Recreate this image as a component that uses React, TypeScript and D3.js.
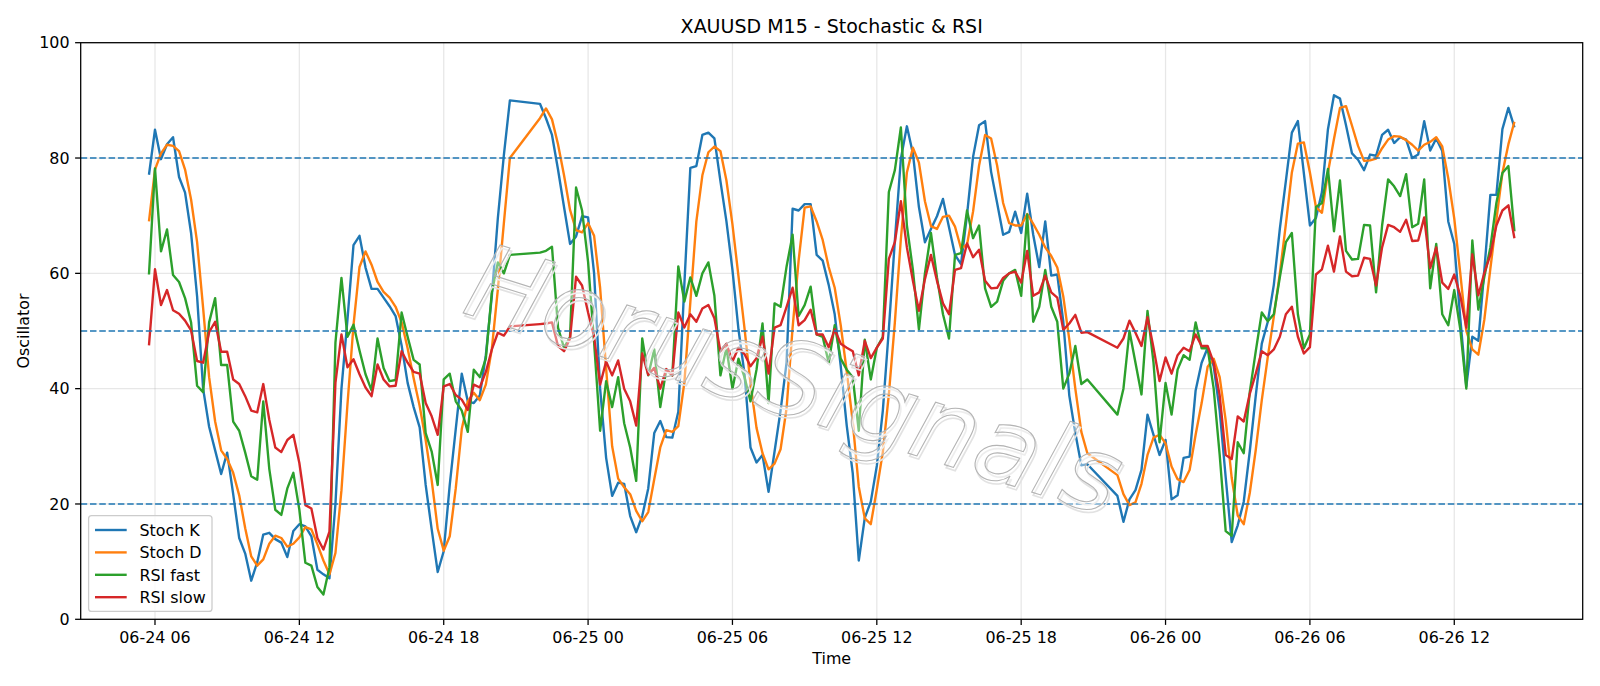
import { useRef, useEffect } from "react";
import * as d3 from "d3";

const W = 1600;
const H = 686;

// M15 bars from the first one on, no bars during the 21:00 (UTC) daily break
const startTime = "2025-06-24T05:45:00Z";
const barCount = 228;
const breakHour = 21;

// values, one per bar
const stochK = [
  77.1, 84.9, 79.8, 82.4, 83.6, 76.7, 74.0, 67.0, 56.0, 40.0,
  33.4, 29.3, 25.2, 28.9, 21.7, 14.1, 11.4, 6.7, 9.9, 14.7,
  15.0, 13.9, 13.3, 10.8, 15.3, 16.5, 16.1, 14.4, 8.6, 7.8,
  7.1, 20.0, 40.0, 52.0, 64.9, 66.5, 61.0, 57.3, 57.3, 55.8,
  54.3, 52.6, 47.5, 41.0, 36.8, 33.3, 23.3, 15.6, 8.2, 11.8,
  23.3, 33.0, 42.6, 37.8, 37.5, 38.8, 45.8, 56.1, 69.6, 80.5,
  90.0,
  // 06-24 22:00
  89.4, 86.9, 84.0, 78.0, 71.5,
  65.1, 66.4, 69.9, 69.7, 60.0, 40.0, 28.0, 21.4, 23.7, 23.5,
  17.9, 15.1, 17.9, 22.7, 32.3, 34.4, 31.6, 31.5, 36.0, 58.0,
  78.3, 78.6, 84.0, 84.4, 83.4, 76.0, 69.0, 60.6, 50.3, 42.6,
  29.8, 27.2, 28.5, 22.1, 29.1, 36.2, 44.5, 71.2, 70.9, 72.0,
  72.0, 63.2, 62.2, 58.0, 52.9, 43.9, 33.6, 25.3, 10.2, 17.6,
  20.4, 26.6, 36.2, 50.3, 65.7, 79.9, 85.5, 80.8, 71.5, 65.4,
  67.7, 69.9, 72.9, 68.0, 63.2, 61.6, 70.2, 80.2, 85.7, 86.4,
  77.6, 72.2, 66.7, 67.2, 70.7, 67.0, 73.8, 66.7, 61.1, 69.0,
  59.6, 59.8, 51.6, 38.8, 32.3, 26.7, 26.9,
  // 06-25 22:00
  21.4, 16.9, 20.8, 22.4, 25.9, 35.5, 32.0, 28.5, 31.1,
  20.8, 21.5, 28.0, 28.2, 39.7, 44.5, 47.1, 43.9, 36.2, 24.6,
  13.4, 16.3, 20.4, 29.1, 38.8, 47.8, 51.6, 58.0, 67.7, 76.0,
  84.4, 86.4, 77.3, 68.3, 69.6, 74.1, 85.0, 90.9, 90.3, 85.7,
  80.8, 79.7, 77.9, 80.6, 80.4, 84.0, 84.9, 82.6, 83.6, 83.2,
  80.0, 80.6, 86.4, 81.3, 83.4, 81.2, 69.0, 65.1, 52.2, 40.4,
  49.0, 48.3, 60.6, 73.6, 73.6, 85.0, 88.7, 85.3,
];

const stochD = [
  69.0, 78.0, 80.8, 82.3, 82.1, 81.2, 78.0, 72.8, 65.4, 54.0,
  42.0, 34.3, 29.3, 27.8, 25.4, 21.5, 15.8, 10.9, 9.3, 10.4,
  13.1, 14.5, 14.1, 12.6, 13.1, 14.2, 16.0, 15.6, 13.0, 10.2,
  7.8, 11.5, 22.4, 37.3, 51.0, 61.1, 63.8, 61.5, 58.5, 56.8,
  55.8, 54.2, 51.5, 47.0, 41.8, 37.0, 31.1, 24.1, 15.7, 11.9,
  14.4, 22.7, 33.0, 37.8, 39.3, 38.0, 40.7, 46.9, 57.2, 68.7,
  80.0,
  86.9, 88.6, 86.7, 82.4, 77.0,
  71.0, 67.5, 67.1, 68.7, 66.5, 57.5, 43.5, 30.0, 24.4, 22.9,
  21.7, 18.8, 17.0, 18.6, 24.3, 29.8, 32.8, 32.5, 33.5, 41.0,
  55.0, 69.0, 77.0, 81.0, 82.0, 81.2, 76.1, 68.5, 59.5, 50.5,
  40.9, 33.2, 28.8, 26.0, 27.0, 29.5, 36.6, 50.6, 62.2, 71.4,
  71.6, 69.0, 65.8, 61.1, 57.5, 51.0, 43.0, 34.2, 23.0, 17.5,
  16.5, 22.5, 29.0, 39.0, 51.5, 66.0, 77.5, 81.8, 79.2, 72.5,
  68.2, 67.7, 69.8, 70.0, 68.1, 64.3, 65.0, 70.7, 78.7, 84.0,
  83.4, 78.7, 72.2, 68.7, 68.3, 68.3, 70.3, 68.6, 66.7, 64.5,
  63.0, 61.0, 56.0, 48.5, 40.0, 32.5, 28.8,
  25.0, 21.7, 19.8, 20.3, 23.5, 28.5, 31.5, 32.0, 30.5,
  26.5, 24.3, 23.8, 25.9, 32.0, 37.5, 43.8, 45.2, 42.0, 34.5,
  24.5, 18.0, 16.5, 21.9, 29.4, 38.0, 45.5, 52.5, 60.0, 68.5,
  77.5, 82.5, 82.7, 77.5, 71.5, 70.5, 77.5, 83.3, 88.7, 89.0,
  85.6, 82.1, 79.5, 79.6, 79.9, 81.7, 83.2, 83.8, 83.7, 83.1,
  82.3, 81.3, 82.3, 82.8, 83.6, 82.0, 76.5, 69.5, 60.0, 50.0,
  46.8, 45.9, 52.0, 60.8, 69.3, 77.4, 82.4, 86.3,
];

const rsiFast = [
  59.8, 78.2, 63.8, 67.6, 59.7, 58.5, 55.7, 51.5, 40.5, 39.4,
  51.5, 55.7, 44.1, 44.1, 34.3, 32.7, 28.9, 24.8, 24.2, 37.8,
  26.1, 19.0, 18.1, 22.7, 25.4, 19.0, 9.8, 9.3, 5.6, 4.3,
  9.0, 48.0, 59.2, 49.0, 51.1, 46.6, 42.5, 39.7, 48.7, 43.6,
  41.3, 41.5, 53.2, 49.0, 45.0, 44.2, 32.3, 29.1, 23.3, 41.6,
  42.6, 37.8, 36.2, 32.5, 43.3, 42.0, 45.2, 56.7, 61.9, 60.0,
  63.2,
  63.6, 63.9, 64.6, 50.6, 47.1,
  49.0, 74.9, 70.9, 62.0, 48.0, 32.7, 41.3, 36.8, 42.0, 34.0,
  29.8, 24.0, 48.7, 42.3, 46.8, 36.8, 43.3, 42.3, 61.2, 55.1,
  59.3, 56.1, 60.0, 61.9, 56.1, 42.3, 47.1, 40.0, 45.2, 42.0,
  37.8, 43.3, 51.3, 37.5, 54.8, 54.2, 61.2, 66.7, 52.6, 54.5,
  57.7, 49.4, 49.0, 44.5, 51.0, 45.2, 43.3, 42.0, 32.7, 48.5,
  41.6, 47.1, 49.0, 74.1, 77.9, 85.3, 68.3, 60.6, 50.3, 60.0,
  67.0, 59.3, 52.9, 48.7, 63.2, 63.5, 70.9, 66.1, 68.3, 57.4,
  54.2, 55.1, 58.7, 60.0, 60.6, 56.1, 70.2, 51.6, 54.2, 60.6,
  54.2, 51.6, 40.0, 42.6, 47.4, 40.8, 41.6,
  35.5, 40.0, 50.0, 44.5, 39.0, 53.5, 44.5, 30.7, 41.0,
  35.5, 43.3, 45.8, 45.0, 51.5, 47.0, 47.0, 40.0, 28.5, 15.3,
  14.5, 30.7, 28.8, 39.4, 46.5, 53.2, 51.7, 52.9, 59.3, 65.4,
  67.0, 52.9, 47.0, 49.4, 71.5, 72.2, 78.1, 67.3, 76.1, 63.9,
  62.4, 62.5, 68.4, 68.3, 56.7, 68.3, 76.3, 75.1, 73.4, 77.2,
  68.0, 68.6, 76.3, 57.4, 65.1, 52.9, 51.0, 57.1, 50.3, 40.0,
  65.7, 53.7, 59.4, 64.5, 72.2, 77.4, 78.6, 67.3,
];

const rsiSlow = [
  47.5, 60.7, 54.5, 57.1, 53.6, 53.0, 51.8, 50.1, 44.8, 44.5,
  49.8, 51.6, 46.4, 46.4, 41.6, 40.8, 38.7, 36.2, 35.9, 40.8,
  34.6, 29.8, 29.0, 31.1, 32.0, 27.1, 19.8, 19.2, 14.1, 12.1,
  15.2, 41.0, 49.4, 43.7, 45.1, 42.5, 40.2, 38.7, 44.2, 41.6,
  40.4, 40.5, 46.5, 44.5, 42.9, 42.6, 37.5, 35.2, 32.0, 40.4,
  40.8, 38.9, 38.1, 36.3, 40.7, 40.2, 42.9, 46.8, 49.7, 49.2,
  50.8,
  51.2, 51.3, 51.5, 47.4, 46.5,
  48.7, 59.4, 57.9, 53.2, 49.0, 40.7, 44.7, 42.3, 44.9, 40.0,
  37.8, 33.6, 46.1, 42.4, 43.6, 40.0, 43.4, 42.3, 53.2, 50.6,
  52.9, 51.6, 53.9, 54.5, 52.2, 46.5, 47.8, 44.7, 47.1, 46.0,
  43.9, 45.3, 49.0, 42.6, 50.6, 51.0, 54.2, 57.5, 51.0, 51.9,
  53.7, 49.4, 49.4, 47.2, 50.3, 47.8, 47.1, 46.5, 42.3, 48.3,
  45.3, 47.1, 48.7, 62.5, 65.4, 72.5, 64.5, 58.7, 53.5, 59.0,
  63.2, 58.7, 54.8, 52.9, 60.6, 60.9, 65.2, 62.8, 64.1, 58.7,
  57.4, 57.5, 59.2, 60.0, 60.3, 58.4, 63.9, 56.1, 56.7, 59.6,
  56.7, 55.8, 50.2, 51.3, 52.8, 49.7, 49.8,
  47.1, 48.7, 51.8, 49.7, 47.4, 52.4, 47.1, 41.3, 45.4,
  42.6, 45.8, 47.1, 46.5, 49.4, 47.4, 47.4, 44.5, 38.8, 28.5,
  27.8, 35.2, 34.3, 39.1, 42.6, 46.5, 45.8, 46.8, 49.0, 52.9,
  54.2, 49.0, 46.1, 47.2, 59.8, 60.7, 64.8, 60.3, 66.4, 60.3,
  59.5, 59.6, 62.7, 62.5, 57.9, 64.5, 68.4, 68.0, 67.2, 69.3,
  65.6, 65.7, 69.7, 60.9, 64.5, 58.4, 57.3, 59.8, 56.1, 50.6,
  63.3, 56.2, 60.1, 63.2, 68.3, 70.9, 71.8, 66.1,
];

const seriesNames = ["Stoch K", "Stoch D", "RSI fast", "RSI slow"];
const seriesColors = ["#1f77b4", "#ff7f0e", "#2ca02c", "#d62728"];
const levels = [80, 50, 20];
const yTicks = [0, 20, 40, 60, 80, 100];

const title = "XAUUSD M15 - Stochastic & RSI";
const watermark = "HorusSignals";

export default function App() {
  const ref = useRef<SVGSVGElement>(null);

  useEffect(() => {
    document.body.style.margin = "0";
    const svg = d3.select(ref.current);
    svg.selectAll("*").remove();

    const font = "DejaVu Sans, Verdana, sans-serif";
    const fs = 15.9;
    const left = 80.7;
    const right = 1582.7;
    const top = 42.7;
    const bottom = 619.3;

    // time of every bar, skipping the daily break
    const t0 = new Date(startTime).getTime();
    const times: Date[] = [];
    for (let i = 0; i < barCount; i++) {
      const t = new Date(t0 + i * 15 * 60000);
      if (t.getUTCHours() !== breakHour) times.push(t);
    }
    const allSeries = [stochK, stochD, rsiFast, rsiSlow];
    allSeries.forEach((s, k) => {
      if (s.length !== times.length) console.warn(seriesNames[k], s.length, times.length);
    });

    const first = times[0].getTime();
    const last = times[times.length - 1].getTime();
    const pad = (last - first) * 0.05;

    const x = d3
      .scaleUtc()
      .domain([new Date(first - pad), new Date(last + pad)])
      .range([left, right]);
    const y = d3.scaleLinear().domain([0, 100]).range([bottom, top]);

    svg.append("rect").attr("width", W).attr("height", H).attr("fill", "#fff");

    const xTicks = x.ticks(d3.utcHour.every(6) as d3.TimeInterval);
    const fmt = d3.utcFormat("%m-%d %H");

    // grid
    const grid = svg.append("g").attr("stroke", "#b0b0b0").attr("stroke-opacity", 0.3).attr("stroke-width", 1.27);
    grid
      .selectAll("line.gx")
      .data(xTicks)
      .join("line")
      .attr("x1", (d) => x(d))
      .attr("x2", (d) => x(d))
      .attr("y1", top)
      .attr("y2", bottom);
    grid
      .selectAll("line.gy")
      .data(yTicks)
      .join("line")
      .attr("x1", left)
      .attr("x2", right)
      .attr("y1", (d) => y(d))
      .attr("y2", (d) => y(d));

    // series
    const line = d3
      .line<number>()
      .x((_, i) => x(times[i]))
      .y((d) => y(d));
    allSeries.forEach((s, k) => {
      svg
        .append("path")
        .attr("d", line(s))
        .attr("fill", "none")
        .attr("stroke", seriesColors[k])
        .attr("stroke-width", 2.38)
        .attr("stroke-linejoin", "round");
    });

    // 80 / 50 / 20 levels
    svg
      .selectAll("line.level")
      .data(levels)
      .join("line")
      .attr("x1", left)
      .attr("x2", right)
      .attr("y1", (d) => y(d))
      .attr("y2", (d) => y(d))
      .attr("stroke", "#1f77b4")
      .attr("stroke-width", 1.6)
      .attr("stroke-dasharray", "6.5,2.8");

    // watermark
    const wm = svg
      .append("g")
      .attr("transform", "translate(784,414) rotate(17.5)")
      .style("font-family", font)
      .style("font-style", "italic")
      .style("font-size", "104px");
    wm.append("text")
      .attr("x", 2.5)
      .attr("y", 2.5)
      .attr("text-anchor", "middle")
      .attr("fill", "none")
      .attr("stroke", "#e2e2e2")
      .attr("stroke-width", 1.6)
      .text(watermark);
    wm.append("text")
      .attr("text-anchor", "middle")
      .attr("fill", "#fff")
      .attr("fill-opacity", 0.4)
      .attr("stroke", "#b4b4b4")
      .attr("stroke-width", 1.1)
      .text(watermark);

    // frame
    svg
      .append("rect")
      .attr("x", left)
      .attr("y", top)
      .attr("width", right - left)
      .attr("height", bottom - top)
      .attr("fill", "none")
      .attr("stroke", "#000")
      .attr("stroke-width", 1.27);

    // x axis
    const gx = svg.append("g").style("font-family", font).style("font-size", fs + "px");
    gx.selectAll("line")
      .data(xTicks)
      .join("line")
      .attr("x1", (d) => x(d))
      .attr("x2", (d) => x(d))
      .attr("y1", bottom)
      .attr("y2", bottom + 5.6)
      .attr("stroke", "#000")
      .attr("stroke-width", 1.27);
    gx.selectAll("text")
      .data(xTicks)
      .join("text")
      .attr("x", (d) => x(d))
      .attr("y", 642.6)
      .attr("text-anchor", "middle")
      .text((d) => fmt(d));

    // y axis
    const gy = svg.append("g").style("font-family", font).style("font-size", fs + "px");
    gy.selectAll("line")
      .data(yTicks)
      .join("line")
      .attr("x1", left - 5.6)
      .attr("x2", left)
      .attr("y1", (d) => y(d))
      .attr("y2", (d) => y(d))
      .attr("stroke", "#000")
      .attr("stroke-width", 1.27);
    gy.selectAll("text")
      .data(yTicks)
      .join("text")
      .attr("x", left - 11.2)
      .attr("y", (d) => y(d))
      .attr("dy", "0.36em")
      .attr("text-anchor", "end")
      .text((d) => d);

    // labels
    svg
      .append("text")
      .attr("x", (left + right) / 2)
      .attr("y", 664)
      .attr("text-anchor", "middle")
      .style("font-family", font)
      .style("font-size", fs + "px")
      .text("Time");
    svg
      .append("text")
      .attr("transform", `translate(29, ${(top + bottom) / 2}) rotate(-90)`)
      .attr("text-anchor", "middle")
      .style("font-family", font)
      .style("font-size", fs + "px")
      .text("Oscillator");
    svg
      .append("text")
      .attr("x", (left + right) / 2)
      .attr("y", 33.2)
      .attr("text-anchor", "middle")
      .style("font-family", font)
      .style("font-size", "19px")
      .text(title);

    // legend
    const lg = svg.append("g").style("font-family", font).style("font-size", fs + "px");
    lg.append("rect")
      .attr("x", 88.6)
      .attr("y", 515.6)
      .attr("width", 123.4)
      .attr("height", 95.8)
      .attr("rx", 3)
      .attr("fill", "#fff")
      .attr("fill-opacity", 0.8)
      .attr("stroke", "#cccccc")
      .attr("stroke-width", 1.27);
    seriesNames.forEach((name, k) => {
      const cy = 530 + k * 22.4;
      lg.append("line")
        .attr("x1", 95)
        .attr("x2", 126.7)
        .attr("y1", cy)
        .attr("y2", cy)
        .attr("stroke", seriesColors[k])
        .attr("stroke-width", 2.38);
      lg.append("text").attr("x", 139.4).attr("y", cy).attr("dy", "0.36em").text(name);
    });
  }, []);

  return <svg ref={ref} width={W} height={H} style={{ display: "block" }} />;
}
